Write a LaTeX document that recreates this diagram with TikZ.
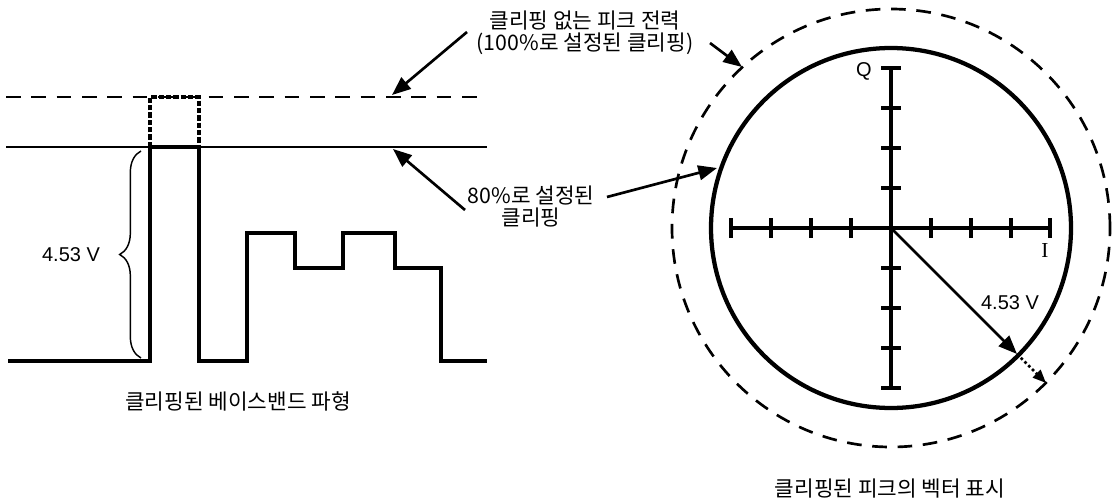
\documentclass[tikz,border=0pt]{standalone}
\usepackage{fontspec}
\setmainfont{Noto Sans CJK KR}
\newfontfamily\latinsans{Liberation Sans}
\newfontfamily\serifI{Liberation Serif}
\usetikzlibrary{arrows.meta,decorations.pathreplacing}
\begin{document}
\begin{tikzpicture}[x=0.75pt,y=-0.75pt,
  wave/.style={line width=3.2pt},
  thinln/.style={line width=2pt},
  dashln/.style={line width=2pt, dash pattern=on 11pt off 8pt},
  shortdash/.style={line width=2.6pt, dash pattern=on 4pt off 1.5pt},
  axisln/.style={line width=2.6pt},
  arr/.style={line width=2pt, -{Triangle[length=14pt,width=11pt]}},
  lbl/.style={font=\fontsize{16}{16.5}\selectfont, align=center, inner sep=0pt},
  latlbl/.style={font=\latinsans\fontsize{15}{18}\selectfont, inner sep=0pt}]
\useasboundingbox (0,0) rectangle (1116,499);

% ---------- left: baseband waveform ----------
\draw[dashln] (6,97) -- (485,97);
\draw[thinln] (6,147) -- (487,147);
\draw[shortdash] (150,147) -- (150,97) -- (199,97) -- (199,147);
\draw[wave] (8,361) -- (150,361) -- (150,147) -- (199,147) -- (199,361) -- (247,361)
  -- (247,233) -- (295,233) -- (295,268) -- (343,268) -- (343,233) -- (395,233)
  -- (395,268) -- (441,268) -- (441,361) -- (487,361);
\draw[line width=1.1pt, decorate, decoration={brace, amplitude=16pt}] (141,358) -- (141,151);
\node[latlbl] (vleft) at (71,255) {4.53 V};
\node[lbl] (lefttitle) at (238,401) {클리핑된 베이스밴드 파형};

% ---------- labels and arrows ----------
\node[lbl] (toplbl) at (585,33) {클리핑 없는 피크 전력\\(100\%로 설정된 클리핑)};
\node[lbl] (midlbl) at (531,207) {80\%로 설정된\\클리핑};
\coordinate (a1s) at (467,32);  \coordinate (a1e) at (392,95);
\coordinate (a2s) at (710,43);  \coordinate (a2e) at (742,67);
\coordinate (a3s) at (465,210); \coordinate (a3e) at (393,149);
\coordinate (a4s) at (607,197); \coordinate (a4e) at (717,168);
\draw[arr] (a1s) -- (a1e);
\draw[arr] (a2s) -- (a2e);
\draw[arr] (a3s) -- (a3e);
\draw[arr] (a4s) -- (a4e);

% ---------- right: IQ vector ----------
\coordinate (O) at (891,228);
\draw[line width=3.2pt] (O) circle (135pt);
\draw[dashln] (O) circle (164.25pt);
\draw[axisln] (731,228) -- (1050,228);
\draw[axisln] (891,68) -- (891,388);
\foreach \x in {731,771,811,851,931,971,1011,1050}
  \draw[axisln] (\x,218) -- (\x,238);
\foreach \y in {68,108,148,188,268,308,348,388}
  \draw[axisln] (881,\y) -- (901,\y);
\node[latlbl] (qlbl) at (864,71) {Q};
\node[font=\serifI\fontsize{16}{18}\selectfont, inner sep=0pt] (ilbl) at (1045,251) {I};
\coordinate (vend) at (1017,354);
\coordinate (vext) at (1046,383);
\draw[arr] (O) -- (vend);
\draw[line width=2pt, dotted, -{Triangle[length=10pt,width=8pt]}] (vend) -- (vext);
\node[latlbl] (vright) at (1010,303) {4.53 V};
\node[lbl] (righttitle) at (890,489) {클리핑된 피크의 벡터 표시};
\end{tikzpicture}
\end{document}
